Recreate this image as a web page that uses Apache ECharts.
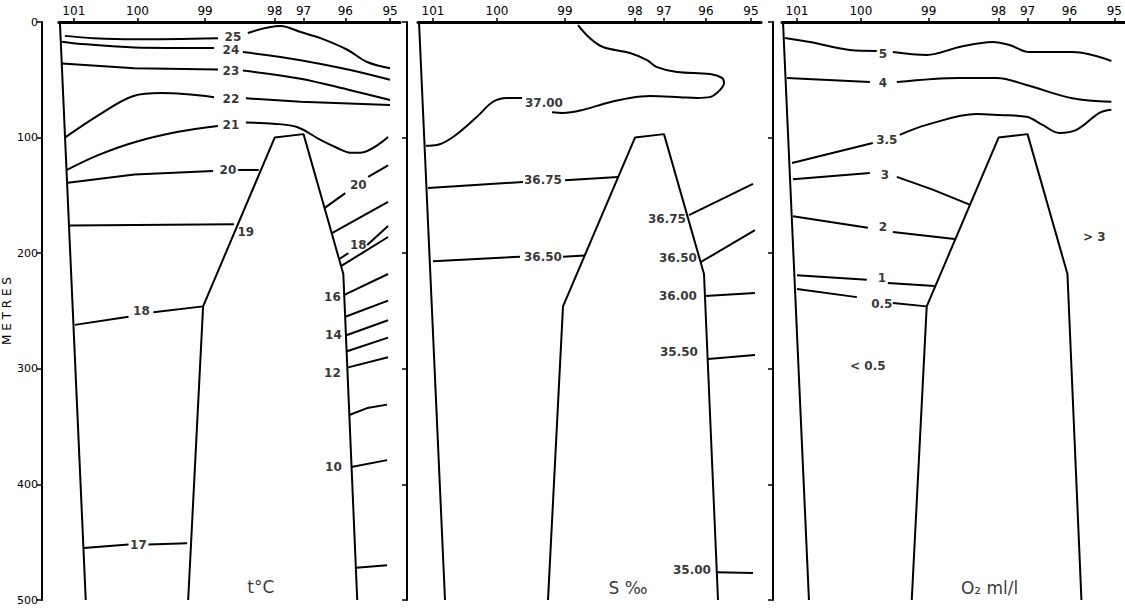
<!DOCTYPE html>
<html>
<head>
<meta charset="utf-8">
<script src="https://cdn.jsdelivr.net/npm/echarts@6/dist/echarts.min.js"></script>
<style>
html,body{margin:0;padding:0;background:#fff;}
#chart{width:1125px;height:611px;}
</style>
</head>
<body>
<div id="chart"></div>
<script>
// ---- data ----
const stations = ['101','100','99','98','97','96','95'];
const stationDist = [0, 64, 132, 202, 231, 273, 318];
const depthTicks = [0, 100, 200, 300, 400, 500];
const slopeLeft = [[-14,0],[12,500]];
const ridge = [[115,500],[130,246],[202,100],[231,97],[271,218],[285,500]];

// temperature (t°C) contour segments [distance, depth]
const tempLines = [
  [[-9,12],[20,14],[61,15],[145,14]],
  [[175,9.5],[208,3.5],[228,8.7],[248,14],[275,24],[295,34.6],[318,40]],
  [[-12,17],[8,19],[61,22],[141,22.5]],
  [[170,26],[228,33],[278,41.5],[318,50]],
  [[-12,36],[61,40],[145,41]],
  [[170,42],[228,49],[278,59],[318,67.5]],
  [[-9,100],[25,80.5],[60,64],[88,61.5],[141,65]],
  [[173,66],[228,69],[318,71.8]],
  [[-7,128],[25,115],[61,104],[105,95],[145,90]],
  [[173,87],[201,88],[225,91],[248,102],[265,109],[278,113],[288,113],[316,99.5]],
  [[-6,139],[61,132],[140,129]],
  [[165,128],[186,128]],
  [[252,161],[273,148]],
  [[296,134],[316,124]],
  [[-4,176],[161,175]],
  [[260,182.5],[316,155.6]],
  [[1,262],[55,255]],
  [[80,251],[130,246]],
  [[267,205],[276,200]],
  [[295,193],[316,176.5]],
  [[10,455],[55,452]],
  [[75,452],[114,451]],
  [[269,211],[316,186]],
  [[272,236],[316,218]],
  [[273,255],[316,241]],
  [[274,271],[316,258]],
  [[274,285],[316,273]],
  [[275,299],[316,290]],
  [[277,340],[295,334],[315,331]],
  [[279,385],[315,379]],
  [[284,472],[315,470]]
];
const tempLabels = [
  [160,13,'25'],[158,24,'24'],[158,42,'23'],[158,66.5,'22'],[158,89,'21'],
  [155,128,'20'],[286,141,'20'],[173,181.6,'19'],[68,250,'18'],[286,193,'18'],
  [65,452,'17'],[260,238,'16'],[261,271,'14'],[260,304,'12'],[261,385,'10']
];
const tempTitle = [188,489,'t°C'];

// salinity (S ‰) contour segments
const salLines = [
  [[145,2.6],[157,14],[170,21.6],[197,26.8],[214,33],[224,39],[244,43.3],[277,45],[289,48.4],[291,52.8],[287,58.8],[277,65],[264,65.7],[247,65],[217,64],[197,65.7],[174,70],[150,76],[130,78.7],[119,78]],
  [[89,65.7],[74,65.7],[60,69],[44,82],[20,99.5],[4,106.4],[-7,107]],
  [[-5,143.6],[90,138.4]],
  [[132,137],[185,134]],
  [[256,167],[320,140]],
  [[0,207],[87,203]],
  [[130,203],[152,202]],
  [[268,207.6],[322,180]],
  [[272,237],[322,234.4]],
  [[275,291.5],[322,288]],
  [[284,476],[320,476.6]]
];
const salLabels = [
  [111,70,'37.00'],[110,137,'36.75'],[234,170.5,'36.75'],[110,203,'36.50'],
  [245,204,'36.50'],[245,237,'36.00'],[246,285.5,'35.50'],[259,474,'35.00']
];
const salTitle = [195,490,'S ‰'];

// oxygen (O2 ml/l) contour segments
const oxyLines = [
  [[-12,13.8],[13,17.3],[53,24.2],[80,25]],
  [[96,26],[130,28.5],[163,21.6],[196,17.3],[213,19.9],[233,26],[276,26],[315,33.7]],
  [[-10,48.4],[73,52]],
  [[100,52],[163,48.4],[200,48.4],[230,54.5],[276,66],[315,69]],
  [[-5,122],[76,104.7]],
  [[103,97.6],[130,89],[180,79.6],[203,80.5],[230,82],[246,89],[263,96],[280,93.4],[303,78.7],[315,76]],
  [[-4,136],[73,130.6]],
  [[100,134],[136,145],[173,158]],
  [[-4,168],[71,178]],
  [[96,181.7],[158,187.7]],
  [[0,219],[70,223]],
  [[91,225.8],[138,228.4]],
  [[0,231],[60,238]],
  [[96,243],[130,246]]
];
const oxyLabels = [
  [86,28,'5'],[86,53,'4'],[90,102,'3.5'],[88,132.4,'3'],[86,177,'2'],
  [85,221.5,'1'],[85,244,'0.5'],[71,298,'< 0.5'],[298,186,'> 3']
];
const oxyTitle = [193,490,'O₂ ml/l'];

// ---- chart ----
const FONT = 'DejaVu Sans';
const gridLefts = [57, 418, 782];
const axisOffsets = [17, 11, 9];

const grids = gridLefts.map(l => ({left: l, top: 22, width: 343, height: 578}));
const xAxes = gridLefts.map((l, i) => ({
  type: 'value', gridIndex: i, position: 'top', min: -15, max: 328,
  axisLine: {show: true, onZero: false, lineStyle: {color: '#000', width: 3}},
  axisTick: {show: true, customValues: stationDist, length: 4, lineStyle: {color: '#000', width: 1.5}},
  axisLabel: {show: true, customValues: stationDist, margin: 5, color: '#000', fontSize: 12, fontFamily: FONT,
    formatter: v => { const k = stationDist.indexOf(v); return k >= 0 ? stations[k] : ''; }},
  splitLine: {show: false}
}));
const yAxes = gridLefts.map((l, i) => ({
  type: 'value', gridIndex: i, inverse: true, min: 0, max: 500, interval: 100,
  offset: axisOffsets[i],
  axisLine: {show: true, onZero: false, lineStyle: {color: '#000', width: 2}},
  axisTick: {show: true, length: 5, lineStyle: {color: '#000', width: 1.5}},
  axisLabel: {show: i === 0, color: '#000', fontSize: 11, fontFamily: FONT, margin: 4},
  splitLine: {show: false},
  name: i === 0 ? 'M E T R E S' : '', nameLocation: 'middle', nameGap: 28, nameRotate: 90,
  nameTextStyle: {color: '#000', fontSize: 12, fontFamily: FONT}
}));

const series = [];
function addLine(pts, gi, w) {
  series.push({
    type: 'line', xAxisIndex: gi, yAxisIndex: gi, data: pts, showSymbol: false,
    smooth: pts.length > 3 ? 0.35 : false, silent: true, animation: false,
    lineStyle: {color: '#000', width: w || 2}
  });
}
function addLabels(list, gi, size, bold) {
  series.push({
    type: 'scatter', xAxisIndex: gi, yAxisIndex: gi, silent: true, animation: false,
    symbolSize: 1, itemStyle: {color: 'rgba(0,0,0,0)'},
    data: list.map(p => ({value: [p[0], p[1]], name: p[2]})),
    label: {show: true, position: 'inside', formatter: p => p.name, color: '#000',
      fontSize: size, fontWeight: bold ? 'bold' : 'normal', fontFamily: FONT}
  });
}
const panelLines = [tempLines, salLines, oxyLines];
const panelLabels = [tempLabels, salLabels, oxyLabels];
const panelTitles = [tempTitle, salTitle, oxyTitle];
for (let g = 0; g < 3; g++) {
  addLine(slopeLeft, g, 2);
  addLine(ridge, g, 2);
  series[series.length - 1].smooth = false;
  panelLines[g].forEach(s => addLine(s, g, 2));
  addLabels(panelLabels[g], g, 12, true);
  addLabels([panelTitles[g]], g, 17, false);
}

const chart = echarts.init(document.getElementById('chart'), null, {renderer: 'svg'});
chart.setOption({
  animation: false,
  backgroundColor: '#fff',
  grid: grids, xAxis: xAxes, yAxis: yAxes, series: series
});
</script>
</body>
</html>
